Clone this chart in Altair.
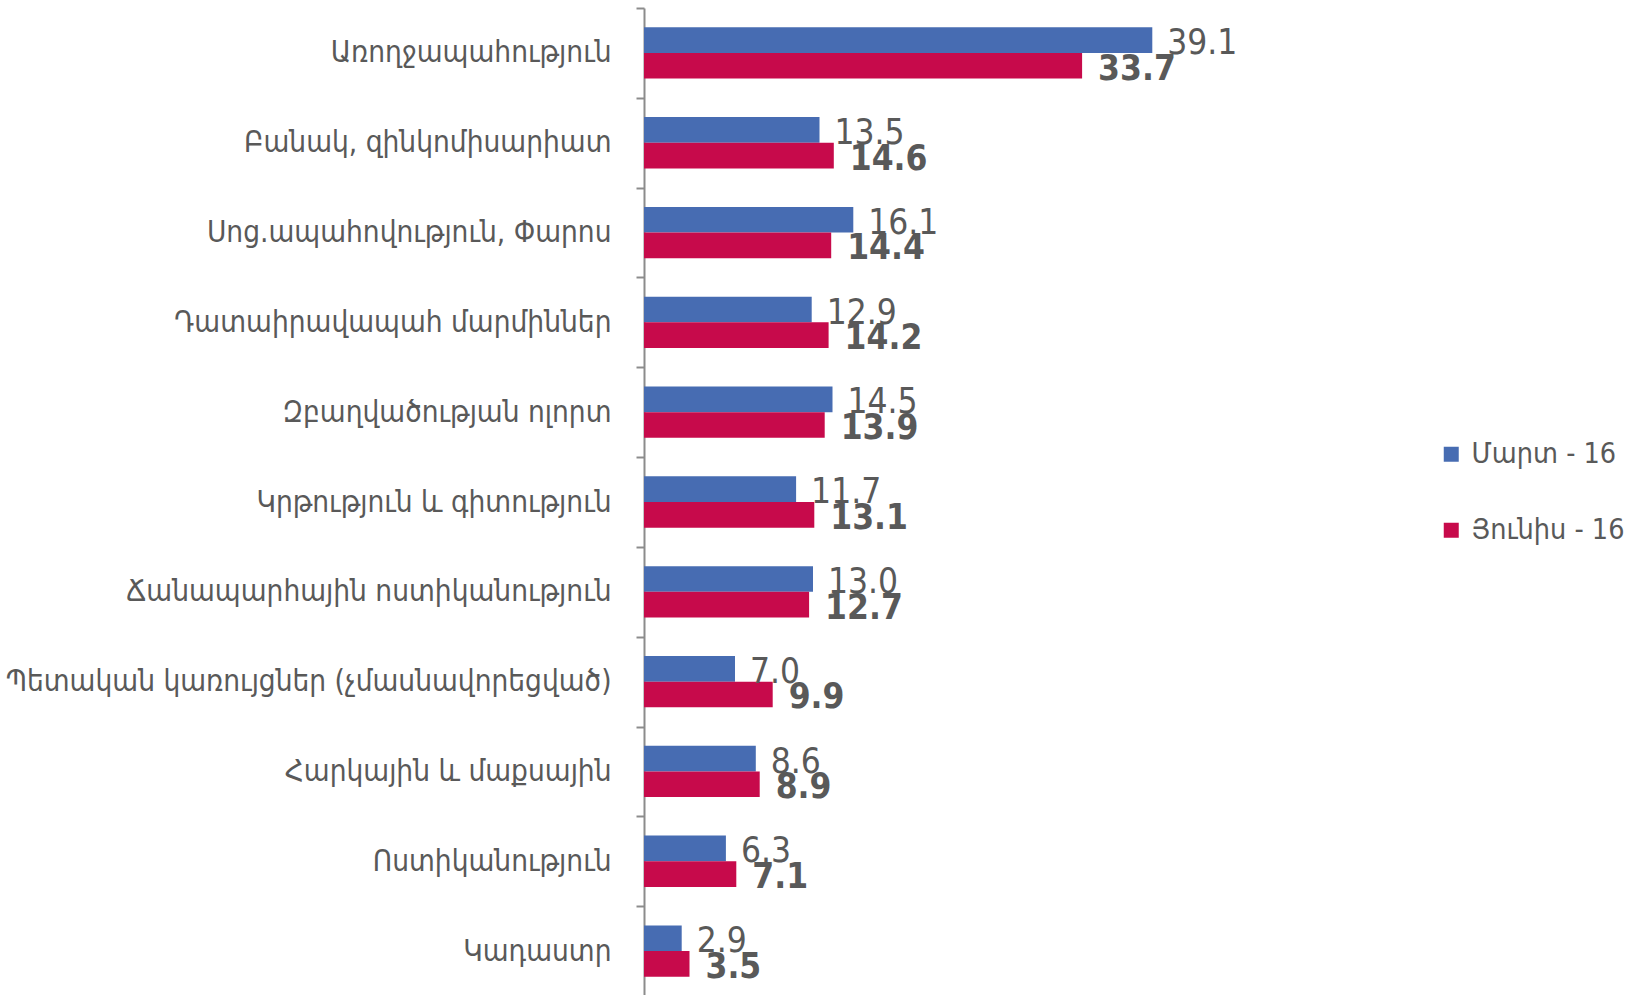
import altair as alt
import pandas as pd

# Categories listed top to bottom
categories = [
    "Առողջապահություն",
    "Բանակ, զինկոմիսարիատ",
    "Սոց.ապահովություն,  Փարոս",
    "Դատաիրավապահ մարմիններ",
    "Զբաղվածության  ոլորտ ",
    "Կրթություն  և  գիտություն",
    "Ճանապարհային  ոստիկանություն",
    "Պետական  կառույցներ  (չմասնավորեցված)",
    "Հարկային  և  մաքսային",
    "Ոստիկանություն",
    "Կադաստր",
]
series = ["Մարտ  - 16", "Յունիս  - 16"]
march = [39.1, 13.5, 16.1, 12.9, 14.5, 11.7, 13.0, 7.0, 8.6, 6.3, 2.9]
june = [33.7, 14.6, 14.4, 14.2, 13.9, 13.1, 12.7, 9.9, 8.9, 7.1, 3.5]
colors = ["#476CB2", "#C70A4B"]

rows = []
for c, m, j in zip(categories, march, june):
    rows.append({"cat": c, "series": series[0], "value": m, "label": f"{m:.1f}"})
    rows.append({"cat": c, "series": series[1], "value": j, "label": f"{j:.1f}"})
df = pd.DataFrame(rows)

gray = "#595959"
label_font = "DejaVu Sans Condensed"

y_enc = alt.Y(
    "cat:N",
    sort=categories,
    title=None,
    scale=alt.Scale(paddingInner=0, paddingOuter=0),
    axis=alt.Axis(
        domainColor="#8C8C8C",
        domainWidth=2,
        tickColor="#8C8C8C",
        tickWidth=2,
        tickSize=8,
        tickBand="extent",
        labelFont=label_font,
        labelFontSize=29.5,
        labelColor=gray,
        labelPadding=25,
        labelLimit=700,
    ),
)
yoff_enc = alt.YOffset(
    "series:N", sort=series, scale=alt.Scale(paddingInner=0, paddingOuter=0.75)
)
x_enc = alt.X("value:Q", scale=alt.Scale(domain=[0, 45]), axis=None)

bars = alt.Chart(df).mark_bar().encode(
    y=y_enc,
    yOffset=yoff_enc,
    x=x_enc,
    color=alt.Color(
        "series:N",
        sort=series,
        scale=alt.Scale(domain=series, range=colors),
        legend=alt.Legend(
            title=None,
            orient="none",
            legendX=793,
            legendY=432,
            symbolType="square",
            symbolSize=225,
            symbolStrokeWidth=0,
            labelFont=label_font,
            labelFontSize=28.5,
            labelColor=gray,
            labelOffset=6,
            labelLimit=300,
            rowPadding=47,
        ),
    ),
)

march_text = (
    alt.Chart(df)
    .transform_filter(alt.datum.series == series[0])
    .mark_text(
        align="left",
        baseline="middle",
        dx=15,
        dy=3,
        font=label_font,
        fontSize=35,
        color=gray,
    )
    .encode(y=y_enc, yOffset=yoff_enc, x=x_enc, text="label:N")
)

june_text = (
    alt.Chart(df)
    .transform_filter(alt.datum.series == series[1])
    .mark_text(
        align="left",
        baseline="middle",
        dx=16,
        dy=3,
        font=label_font,
        fontSize=35,
        fontWeight="bold",
        color=gray,
    )
    .encode(y=y_enc, yOffset=yoff_enc, x=x_enc, text="label:N")
)

chart = (
    alt.layer(bars, march_text, june_text)
    .properties(
        width=585,
        height=988,
        padding={"left": 644, "top": 8, "right": 408, "bottom": 0},
        autosize=alt.AutoSizeParams(type="none"),
        background="white",
    )
    .configure_view(strokeWidth=0)
)

chart.save("out.html", embed_options={"renderer": "svg", "actions": False})
